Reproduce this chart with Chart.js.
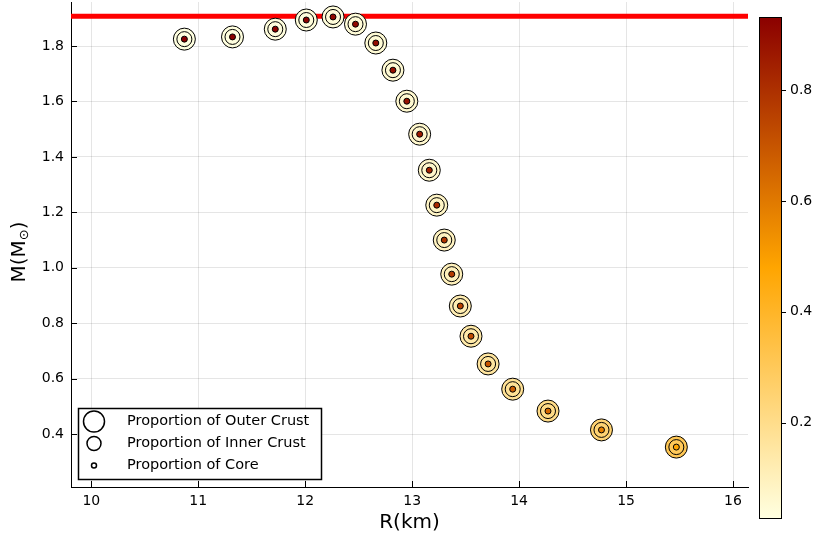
<!DOCTYPE html>
<html>
<head>
<meta charset="utf-8">
<script src="https://cdn.jsdelivr.net/npm/chart.js@4.4.1/dist/chart.umd.min.js"></script>
<style>
  html, body { margin: 0; padding: 0; background: #fff; }
  canvas { display: block; }
</style>
</head>
<body>
<canvas id="massRadius" width="819" height="540"></canvas>
<script>
// mass-radius sequence, values
const radiusKm = [10.87, 11.32, 11.72, 12.01, 12.26, 12.47, 12.66, 12.82, 12.95, 13.07, 13.16,
                  13.23, 13.30, 13.37, 13.45, 13.55, 13.71, 13.94, 14.27, 14.77, 15.47];
const massSun = [1.825, 1.833, 1.861, 1.894, 1.905, 1.879, 1.811, 1.713, 1.601, 1.482, 1.352,
                 1.226, 1.100, 0.977, 0.862, 0.753, 0.653, 0.562, 0.483, 0.415, 0.353];
const outerCrust = [0.028, 0.03, 0.035, 0.04, 0.04, 0.045, 0.05, 0.055, 0.06, 0.065, 0.07,
                    0.08, 0.09, 0.10, 0.12, 0.14, 0.16, 0.18, 0.21, 0.25, 0.31];
const innerCrust = [0.03, 0.032, 0.036, 0.04, 0.042, 0.046, 0.05, 0.055, 0.06, 0.066, 0.072,
                    0.08, 0.09, 0.10, 0.12, 0.14, 0.16, 0.18, 0.21, 0.25, 0.30];
const coreShare = [0.932, 0.93, 0.92, 0.92, 0.91, 0.91, 0.90, 0.89, 0.88, 0.86, 0.84,
                   0.82, 0.79, 0.77, 0.75, 0.73, 0.70, 0.68, 0.65, 0.58, 0.48];
const maxMass = 1.908;
const xRange = [9.81, 16.14];
const yRange = [0.209, 1.959];
const xTicks = [10, 11, 12, 13, 14, 15, 16];
const yTicks = [0.4, 0.6, 0.8, 1.0, 1.2, 1.4, 1.6, 1.8];
const barTicks = [0.2, 0.4, 0.6, 0.8];
const seriesNames = ["Proportion of Outer Crust", "Proportion of Inner Crust", "Proportion of Core"];

const FONT = "'DejaVu Sans', sans-serif";
const allShares = outerCrust.concat(innerCrust, coreShare);
const cmin = Math.min(...allShares);
const cmax = Math.max(...allShares);

// lightyellow -> orange -> darkred
const stops = [[255, 255, 224], [255, 165, 0], [139, 0, 0]];
function heat(v) {
  let t = (v - cmin) / (cmax - cmin);
  t = Math.max(0, Math.min(1, t));
  const k = t < 0.5 ? 0 : 1;
  const f = t < 0.5 ? t / 0.5 : (t - 0.5) / 0.5;
  const a = stops[k], b = stops[k + 1];
  const c = a.map((x, i) => Math.round(x + (b[i] - x) * f));
  return "rgb(" + c.join(",") + ")";
}

const points = radiusKm.map((r, i) => ({ x: r, y: massSun[i] }));

const decorations = {
  id: "decorations",
  afterDraw(chart) {
    const ctx = chart.ctx;
    const a = chart.chartArea;
    const xs = chart.scales.x, ys = chart.scales.y;
    ctx.save();
    // inward tick marks
    ctx.strokeStyle = "#000";
    ctx.lineWidth = 1;
    ctx.beginPath();
    xTicks.forEach(v => {
      const px = Math.round(xs.getPixelForValue(v)) + 0.5;
      ctx.moveTo(px, a.bottom); ctx.lineTo(px, a.bottom - 6);
    });
    yTicks.forEach(v => {
      const py = Math.round(ys.getPixelForValue(v)) + 0.5;
      ctx.moveTo(a.left, py); ctx.lineTo(a.left + 6, py);
    });
    ctx.stroke();

    // axis titles
    ctx.fillStyle = "#000";
    ctx.font = "20px " + FONT;
    ctx.textAlign = "center";
    ctx.textBaseline = "middle";
    ctx.fillText("R(km)", (a.left + a.right) / 2, 523);

    ctx.save();
    ctx.translate(20, 252);
    ctx.rotate(-Math.PI / 2);
    ctx.textAlign = "left";
    const w1 = ctx.measureText("M(M").width;
    ctx.font = "13px " + FONT;
    const w2 = ctx.measureText("\u2299").width;
    ctx.font = "20px " + FONT;
    const w3 = ctx.measureText(")").width;
    let x0 = -(w1 + w2 + w3) / 2;
    ctx.fillText("M(M", x0, 0);
    ctx.font = "13px " + FONT;
    ctx.fillText("\u2299", x0 + w1, 5);
    ctx.font = "20px " + FONT;
    ctx.fillText(")", x0 + w1 + w2, 0);
    ctx.restore();

    // legend
    ctx.fillStyle = "#fff";
    ctx.fillRect(78.5, 408.5, 243, 71);
    ctx.lineWidth = 1.5;
    ctx.strokeRect(78.5, 408.5, 243, 71);
    const rows = [421.5, 443.5, 465.5];
    const radii = [10.5, 7, 2.5];
    ctx.font = "14.5px " + FONT;
    ctx.textAlign = "left";
    ctx.textBaseline = "middle";
    seriesNames.forEach((name, i) => {
      ctx.beginPath();
      ctx.arc(94, rows[i], radii[i], 0, Math.PI * 2);
      ctx.fillStyle = "#fff";
      ctx.fill();
      ctx.lineWidth = 1.5;
      ctx.strokeStyle = "#000";
      ctx.stroke();
      ctx.fillStyle = "#000";
      ctx.fillText(name, 127, rows[i]);
    });

    // colorbar
    const bx = 759, bw = 22, top = 17, bottom = 518;
    const grad = ctx.createLinearGradient(0, bottom, 0, top);
    grad.addColorStop(0, "rgb(255,255,224)");
    grad.addColorStop(0.5, "rgb(255,165,0)");
    grad.addColorStop(1, "rgb(139,0,0)");
    ctx.fillStyle = grad;
    ctx.fillRect(bx, top, bw, bottom - top);
    ctx.lineWidth = 1;
    ctx.strokeStyle = "#000";
    ctx.strokeRect(bx + 0.5, top + 0.5, bw, bottom - top);
    ctx.fillStyle = "#000";
    ctx.font = "14px " + FONT;
    ctx.textAlign = "left";
    ctx.beginPath();
    barTicks.forEach(v => {
      const py = bottom - (v - cmin) / (cmax - cmin) * (bottom - top);
      ctx.moveTo(bx + bw, Math.round(py) + 0.5);
      ctx.lineTo(bx + bw + 5, Math.round(py) + 0.5);
      ctx.fillText(v.toFixed(1), 790, py);
    });
    ctx.stroke();
    ctx.restore();
  }
};

new Chart(document.getElementById("massRadius"), {
  type: "scatter",
  data: {
    datasets: [
      {
        label: "max mass",
        type: "line",
        data: [{ x: xRange[0], y: maxMass }, { x: xRange[1], y: maxMass }],
        borderColor: "#ff0000",
        borderWidth: 5,
        pointRadius: 0,
        order: 4
      },
      {
        label: seriesNames[0],
        data: points,
        pointRadius: 11,
        pointBackgroundColor: outerCrust.map(heat),
        pointBorderColor: "#000",
        pointBorderWidth: 1,
        order: 3
      },
      {
        label: seriesNames[1],
        data: points,
        pointRadius: 7.5,
        pointBackgroundColor: innerCrust.map(heat),
        pointBorderColor: "#000",
        pointBorderWidth: 1,
        order: 2
      },
      {
        label: seriesNames[2],
        data: points,
        pointRadius: 3,
        pointBackgroundColor: coreShare.map(heat),
        pointBorderColor: "#000",
        pointBorderWidth: 1,
        order: 1
      }
    ]
  },
  options: {
    responsive: false,
    animation: false,
    layout: { autoPadding: false, padding: { left: 0, right: 71, top: 2, bottom: 0 } },
    plugins: { legend: { display: false }, tooltip: { enabled: false } },
    scales: {
      x: {
        type: "linear",
        min: xRange[0],
        max: xRange[1],
        afterBuildTicks: s => { s.ticks = xTicks.map(v => ({ value: v })); },
        afterFit: s => { s.height = 53; s.paddingLeft = 0; s.paddingRight = 0; },
        ticks: {
          font: { family: FONT, size: 14 },
          color: "#000",
          padding: 6,
          maxRotation: 0,
          callback: v => String(v)
        },
        grid: { color: "rgba(0,0,0,0.1)", drawTicks: false },
        border: { color: "#000", width: 1 }
      },
      y: {
        type: "linear",
        min: yRange[0],
        max: yRange[1],
        afterBuildTicks: s => { s.ticks = yTicks.map(v => ({ value: v })); },
        afterFit: s => { s.width = 71; s.paddingTop = 0; s.paddingBottom = 0; },
        ticks: {
          font: { family: FONT, size: 14 },
          color: "#000",
          padding: 7,
          callback: v => v.toFixed(1)
        },
        grid: { color: "rgba(0,0,0,0.1)", drawTicks: false },
        border: { color: "#000", width: 1 }
      }
    }
  },
  plugins: [decorations]
});
</script>
</body>
</html>
